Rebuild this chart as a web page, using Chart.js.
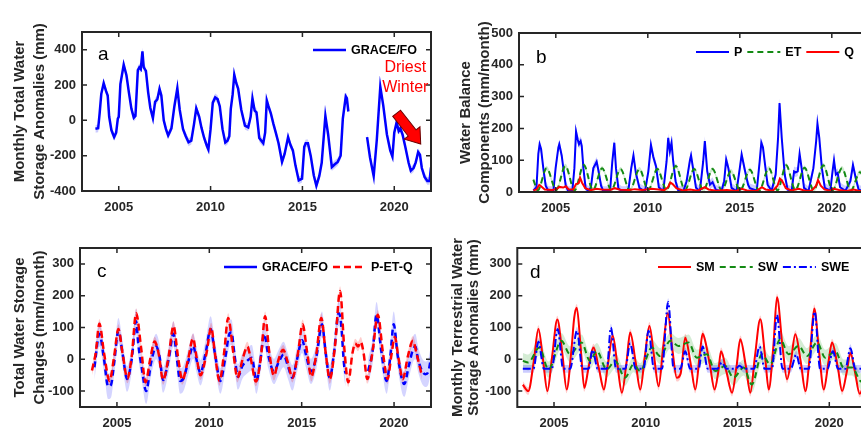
<!DOCTYPE html>
<html>
<head>
<meta charset="utf-8">
<script src="https://cdn.jsdelivr.net/npm/chart.js@4"></script>
<style>
  html, body { margin: 0; padding: 0; background: #fff; overflow: hidden; }
  body { width: 861px; height: 430px; position: relative; }
  canvas { position: absolute; }
</style>
</head>
<body>
<canvas id="grafA" width="440" height="215" style="left:0;top:0"></canvas>
<canvas id="grafB" width="445" height="215" style="left:440px;top:0"></canvas>
<canvas id="grafC" width="440" height="215" style="left:0;top:215px"></canvas>
<canvas id="grafD" width="445" height="215" style="left:440px;top:215px"></canvas>
<script>
// ---- dados ----
const yearTicks = [2005, 2010, 2015, 2020];

// (a) GRACE/FO TWSA (mm)
const aYears = [2003.73,2003.88,2003.96,2004.05,2004.18,2004.31,2004.40,2004.48,2004.60,2004.75,2004.86,2004.95,2005.00,2005.09,2005.27,2005.42,2005.55,2005.69,2005.82,2005.91,2006.04,2006.12,2006.20,2006.29,2006.36,2006.48,2006.60,2006.72,2006.86,2006.98,2007.10,2007.22,2007.32,2007.45,2007.57,2007.69,2007.87,2008.03,2008.19,2008.32,2008.50,2008.65,2008.80,2008.95,2009.10,2009.22,2009.38,2009.50,2009.65,2009.80,2009.88,2010.00,2010.12,2010.25,2010.38,2010.50,2010.65,2010.80,2010.92,2011.02,2011.10,2011.20,2011.29,2011.40,2011.50,2011.67,2011.87,2012.05,2012.18,2012.28,2012.40,2012.50,2012.65,2012.87,2012.97,2013.06,2013.15,2013.28,2013.42,2013.55,2013.70,2013.89,2014.03,2014.22,2014.35,2014.48,2014.62,2014.80,2014.98,2015.10,2015.18,2015.30,2015.45,2015.62,2015.76,2015.92,2016.05,2016.25,2016.40,2016.60,2016.75,2016.92,2017.08,2017.20,2017.36,2017.42,2017.50,2018.00,2018.52,2018.68,2018.88,2019.05,2019.24,2019.40,2019.60,2019.78,2019.90,2020.00,2020.13,2020.24,2020.33,2020.45,2020.60,2020.78,2020.90,2021.05,2021.17,2021.30,2021.40,2021.50,2021.65,2021.80,2021.92,2022.00];
const aTws = [-48,-45,40,150,210,165,140,20,-55,-95,-70,10,20,205,315,255,160,65,15,25,285,300,290,390,300,280,160,70,12,105,118,178,140,0,-50,-85,-45,80,182,60,-50,-90,-124,-115,-20,68,20,-40,-100,-145,-165,-50,100,130,120,80,-50,-125,-115,-90,65,145,258,210,180,60,-30,-40,20,125,55,45,-100,-130,-70,112,80,40,-20,-70,-130,-235,-190,-95,-140,-170,-255,-340,-330,-150,-130,-130,-200,-312,-370,-315,-240,25,-80,-265,-250,-235,-200,10,135,125,50,null,-95,-210,-315,-110,190,85,-80,-170,-205,-70,-10,-60,-45,-80,-150,-240,-285,-270,-238,-180,-195,-270,-320,-343,-343,-267];
const aBand = 22;
const setaDe = [2020.13, 40];     // seta "Driest Winter"
const setaAte = [2021.44, -134];
const textoSeta = ['Driest', 'Winter'];

// (b) P, ET, Q (mm/month)
const bPYears = [2003.78,2003.95,2004.05,2004.12,2004.20,2004.32,2004.45,2004.60,2004.87,2004.99,2005.14,2005.19,2005.32,2005.41,2005.54,2005.68,2005.90,2006.01,2006.10,2006.19,2006.26,2006.35,2006.41,2006.50,2006.62,2006.77,2006.91,2007.04,2007.13,2007.22,2007.31,2007.46,2007.58,2007.95,2008.07,2008.18,2008.27,2008.40,2008.58,2008.94,2009.10,2009.22,2009.35,2009.55,2009.85,2010.03,2010.17,2010.30,2010.45,2010.60,2010.84,2011.02,2011.11,2011.20,2011.29,2011.38,2011.51,2011.66,2011.93,2012.11,2012.29,2012.35,2012.47,2012.62,2012.83,2013.01,2013.10,2013.23,2013.38,2013.52,2013.70,2014.00,2014.15,2014.26,2014.38,2014.55,2014.82,2015.00,2015.10,2015.27,2015.45,2015.55,2015.92,2016.08,2016.17,2016.26,2016.35,2016.51,2016.73,2016.95,2017.08,2017.16,2017.28,2017.44,2017.60,2017.82,2017.95,2018.04,2018.15,2018.25,2018.36,2018.49,2018.73,2019.00,2019.15,2019.22,2019.32,2019.46,2019.62,2019.92,2020.04,2020.12,2020.22,2020.32,2020.45,2020.74,2021.01,2021.15,2021.30,2021.46,2021.70,2022.00];
const bP = [5,15,120,150,135,75,20,3,3,75,140,150,115,75,20,3,3,75,190,165,150,160,145,75,12,3,15,75,85,95,70,20,3,3,95,155,75,12,3,3,75,115,60,12,2,65,148,110,80,15,2,96,170,128,155,96,34,4,2,34,100,115,70,13,2,96,160,65,23,31,7,2,34,102,75,13,2,75,118,70,23,12,4,96,155,140,96,23,4,55,170,280,170,55,7,4,65,62,65,120,75,13,2,75,160,215,170,75,13,4,65,100,55,60,15,4,34,85,44,7,3,3];
const bETYears = [2003.78,2004.02,2004.50,2005.02,2005.52,2006.02,2006.52,2007.02,2007.52,2008.02,2008.52,2009.02,2009.55,2010.02,2010.52,2011.02,2011.52,2012.02,2012.52,2013.02,2013.52,2014.02,2014.52,2015.02,2015.55,2016.05,2016.58,2017.05,2017.52,2018.02,2018.52,2019.02,2019.54,2020.04,2020.55,2021.04,2021.53,2022.00];
const bET = [39,5,75,6,82,5,85,6,75,6,72,5,72,5,72,6,82,6,72,5,72,5,65,5,70,4,75,5,84,6,76,5,84,5,75,5,62,8];
const bQYears = [2003.78,2003.95,2004.10,2004.20,2004.40,2004.80,2005.05,2005.20,2005.40,2005.55,2005.70,2005.95,2006.10,2006.25,2006.32,2006.42,2006.60,2006.90,2007.20,2007.50,2008.00,2008.20,2008.50,2009.00,2009.30,2009.70,2010.20,2010.60,2010.90,2011.10,2011.22,2011.35,2011.55,2011.90,2012.30,2012.70,2013.10,2013.30,2013.70,2014.30,2014.80,2015.10,2015.40,2015.90,2016.20,2016.40,2016.80,2017.05,2017.18,2017.30,2017.50,2017.80,2018.20,2018.50,2018.90,2019.15,2019.25,2019.40,2019.60,2019.90,2020.10,2020.40,2020.80,2021.20,2021.50,2022.00];
const bQ = [5,8,22,18,8,6,10,16,14,18,8,8,25,28,45,30,12,6,10,8,7,12,7,6,9,6,10,8,6,15,30,25,12,5,8,4,15,8,4,6,3,10,5,3,15,8,4,20,42,35,12,5,10,5,4,20,38,20,8,4,10,6,3,8,3,3];
const bPBand = 15, bETBand = 7;

// (c) variacao do armazenamento (mm/month)
const cPetqYears = [2003.65,2003.85,2004.05,2004.30,2004.60,2004.85,2005.08,2005.30,2005.57,2005.80,2006.04,2006.30,2006.55,2006.80,2007.04,2007.25,2007.50,2007.80,2008.06,2008.30,2008.54,2008.85,2009.12,2009.30,2009.52,2009.85,2010.10,2010.30,2010.55,2010.80,2011.02,2011.30,2011.52,2011.80,2012.06,2012.25,2012.52,2012.80,2013.02,2013.25,2013.50,2013.75,2014.00,2014.25,2014.50,2014.80,2015.05,2015.30,2015.52,2015.80,2016.06,2016.30,2016.52,2016.80,2017.08,2017.30,2017.52,2017.75,2017.90,2018.05,2018.20,2018.35,2018.55,2018.85,2019.12,2019.40,2019.65,2019.85,2020.04,2020.25,2020.47,2020.75,2021.02,2021.25,2021.50];
const cPetq = [-35,20,112,20,-68,10,95,20,-60,10,145,40,-72,0,56,20,-65,10,105,10,-65,0,66,10,-50,20,100,20,-68,20,130,20,-58,0,40,0,-70,10,135,20,-52,0,30,-10,-58,20,110,20,-55,20,130,20,-62,40,215,40,-72,20,50,40,55,20,-62,30,140,20,-62,10,70,0,-62,10,58,10,-50];
const cGraceYears = [2003.78,2004.05,2004.30,2004.52,2004.68,2004.85,2005.08,2005.30,2005.55,2005.80,2006.04,2006.15,2006.35,2006.58,2006.85,2007.12,2007.30,2007.50,2007.80,2008.06,2008.25,2008.42,2008.60,2008.85,2009.13,2009.30,2009.52,2009.80,2010.07,2010.30,2010.60,2010.85,2011.10,2011.20,2011.35,2011.55,2011.80,2012.05,2012.30,2012.55,2012.75,2012.97,2013.20,2013.50,2013.75,2014.02,2014.25,2014.50,2014.75,2015.02,2015.25,2015.50,2015.80,2016.10,2016.30,2016.52,2016.75,2017.00,2017.12,2017.30,2017.38,2018.00,2018.60,2018.85,2019.05,2019.30,2019.60,2019.80,2019.98,2020.20,2020.55,2020.80,2021.02,2021.15,2021.30,2021.50,2021.70,2021.85,2022.00];
const cGrace = [-25,80,0,-85,-80,-10,90,20,-62,0,120,50,-30,-100,-10,40,10,-65,0,80,0,-68,-60,-10,42,0,-42,20,95,20,-68,0,82,85,20,-55,-20,-5,5,-68,-10,80,10,-38,-10,15,-20,-58,0,60,10,-38,10,110,20,-58,20,145,120,-20,-45,null,-37,30,140,30,-68,10,110,10,-78,-20,30,40,0,-35,-47,-40,5];
const cGraceBand = 40, cPetqBand = 15;

// (d) SM, SW, SWE (mm)
const dSMYears = [2003.30,2003.60,2003.90,2004.15,2004.40,2004.64,2004.90,2005.18,2005.45,2005.69,2005.95,2006.10,2006.24,2006.45,2006.65,2006.90,2007.15,2007.45,2007.72,2007.95,2008.20,2008.45,2008.70,2008.95,2009.15,2009.45,2009.70,2009.95,2010.20,2010.45,2010.70,2010.95,2011.20,2011.45,2011.69,2011.90,2012.15,2012.45,2012.70,2012.95,2013.10,2013.25,2013.50,2013.75,2013.95,2014.10,2014.40,2014.70,2014.95,2015.15,2015.45,2015.70,2015.95,2016.24,2016.50,2016.70,2016.95,2017.15,2017.45,2017.70,2017.90,2018.15,2018.45,2018.70,2018.95,2019.18,2019.45,2019.70,2019.95,2020.15,2020.45,2020.70,2020.95,2021.15,2021.40,2021.65,2022.00];
const dSM = [-80,-100,-5,95,0,-100,10,125,20,-95,30,130,162,40,-90,-20,37,-30,-95,-10,74,-15,-105,-10,84,-10,-95,10,105,10,-85,40,145,30,-58,-45,68,-15,-95,20,80,55,-20,-95,-40,25,-40,-105,-20,63,-20,-105,10,126,10,-95,40,195,40,-63,-10,79,-10,-100,20,160,20,-95,-10,53,-20,-100,-40,20,-40,-108,-60];
const dSWYears = [2003.30,2003.60,2004.20,2004.70,2005.40,2005.87,2006.50,2006.96,2007.33,2007.87,2008.33,2008.87,2009.33,2009.70,2010.33,2010.78,2011.33,2011.78,2012.33,2012.78,2013.33,2013.78,2014.33,2014.78,2015.33,2015.78,2016.33,2016.78,2017.33,2017.78,2018.33,2018.78,2019.33,2019.78,2020.33,2020.78,2021.24,2021.69,2022.00];
const dSW = [-5,-10,37,-32,58,16,53,-5,26,-32,-5,-58,-16,-37,37,10,58,42,53,5,16,-37,-21,-58,-26,-79,16,-16,63,16,42,10,53,5,26,-26,-26,-68,-75];
const dSWEYears = [2003.30,2003.88,2004.15,2004.45,2004.88,2005.20,2005.50,2005.88,2006.25,2006.55,2006.88,2007.10,2007.38,2007.88,2008.10,2008.38,2008.88,2009.15,2009.45,2009.88,2010.15,2010.45,2010.88,2011.22,2011.52,2011.88,2012.15,2012.42,2012.88,2013.10,2013.38,2013.90,2014.15,2014.40,2014.90,2015.10,2015.35,2015.90,2016.20,2016.48,2016.88,2017.15,2017.45,2017.90,2018.20,2018.45,2018.88,2019.20,2019.50,2019.90,2020.20,2020.48,2020.88,2021.15,2021.42,2022.00];
const dSWE = [-30,-30,55,-30,-30,95,-30,-30,90,-30,-30,30,-30,-30,100,-30,-30,50,-30,-30,90,-30,-30,180,-30,-30,25,-30,-30,40,-30,-30,-10,-30,-30,-20,-30,-30,40,-30,-30,140,-30,-30,15,-30,-30,150,-30,-30,25,-30,-30,35,-30,-30];
const dSMBand = 12, dSWBand = 25, dSWEBand = 12;

// ---- estilo ----
const FONTE = '"Liberation Sans", Arial, Helvetica, sans-serif';
Chart.defaults.font.family = FONTE;
Chart.defaults.color = '#262626';

function pontos(ts, vs, d) {
  return ts.map((t, i) => ({x: t, y: vs[i] == null ? null : vs[i] + (d || 0)}));
}

function linha(ts, vs, cor, larg, dash, mono) {
  return {
    data: pontos(ts, vs), borderColor: cor, borderWidth: larg, borderDash: dash || [],
    pointRadius: 0, fill: false, spanGaps: false,
    cubicInterpolationMode: mono ? 'monotone' : 'default', tension: 0
  };
}

// faixa de incerteza: duas series, a de baixo preenche ate a de cima
function faixa(ts, vs, w, cor, mono) {
  const base = {pointRadius: 0, borderWidth: 0, borderColor: 'rgba(0,0,0,0)', spanGaps: false,
    cubicInterpolationMode: mono ? 'monotone' : 'default', tension: 0};
  return [
    Object.assign({data: pontos(ts, vs, w), fill: false}, base),
    Object.assign({data: pontos(ts, vs, -w), fill: '-1', backgroundColor: cor}, base)
  ];
}

// caixa estilo MATLAB com ticks para dentro
const caixa = {
  id: 'caixa',
  afterDatasetsDraw(chart) {
    const {ctx, chartArea: a, scales: {x, y}} = chart;
    ctx.save();
    ctx.strokeStyle = '#262626';
    ctx.lineWidth = 1.5;
    ctx.beginPath();
    x.ticks.forEach(t => {
      const px = x.getPixelForValue(t.value);
      ctx.moveTo(px, a.bottom); ctx.lineTo(px, a.bottom - 5);
      ctx.moveTo(px, a.top); ctx.lineTo(px, a.top + 5);
    });
    y.ticks.forEach(t => {
      const py = y.getPixelForValue(t.value);
      ctx.moveTo(a.left, py); ctx.lineTo(a.left + 5, py);
      ctx.moveTo(a.right, py); ctx.lineTo(a.right - 5, py);
    });
    ctx.stroke();
    ctx.lineWidth = 2;
    ctx.strokeRect(a.left, a.top, a.right - a.left, a.bottom - a.top);
    ctx.restore();
  }
};

// legenda em linha + letra do painel
const legendaLinhas = {
  id: 'legendaLinhas',
  afterDraw(chart, args, opts) {
    const ctx = chart.ctx;
    ctx.save();
    ctx.font = 'bold 12.5px ' + FONTE;
    ctx.textBaseline = 'middle';
    let x = opts.x;
    opts.items.forEach(it => {
      ctx.strokeStyle = it.color;
      ctx.lineWidth = it.width;
      ctx.setLineDash(it.dash || []);
      ctx.beginPath();
      ctx.moveTo(x, opts.y);
      ctx.lineTo(x + 33, opts.y);
      ctx.stroke();
      ctx.setLineDash([]);
      ctx.fillStyle = '#000';
      ctx.fillText(it.label, x + 38, opts.y + 1);
      x += 38 + ctx.measureText(it.label).width + 5;
    });
    ctx.font = '19px ' + FONTE;
    ctx.textBaseline = 'alphabetic';
    ctx.fillText(opts.letter, opts.lx, opts.ly);
    ctx.restore();
  }
};

// seta e texto do painel a
const anotacao = {
  id: 'anotacao',
  afterDatasetsDraw(chart) {
    if (chart.canvas.id !== 'grafA') return;
    const {ctx, scales: {x, y}} = chart;
    const x0 = x.getPixelForValue(setaDe[0]), y0 = y.getPixelForValue(setaDe[1]);
    const x1 = x.getPixelForValue(setaAte[0]), y1 = y.getPixelForValue(setaAte[1]);
    const len = Math.hypot(x1 - x0, y1 - y0);
    ctx.save();
    ctx.translate(x0, y0);
    ctx.rotate(Math.atan2(y1 - y0, x1 - x0));
    ctx.beginPath();
    ctx.moveTo(0, -5); ctx.lineTo(len - 14, -5); ctx.lineTo(len - 14, -10);
    ctx.lineTo(len, 0);
    ctx.lineTo(len - 14, 10); ctx.lineTo(len - 14, 5); ctx.lineTo(0, 5);
    ctx.closePath();
    ctx.fillStyle = '#ff0000';
    ctx.fill();
    ctx.strokeStyle = '#6b0000';
    ctx.lineWidth = 1;
    ctx.stroke();
    ctx.restore();
    ctx.save();
    ctx.fillStyle = '#ff0000';
    ctx.font = '16px ' + FONTE;
    ctx.textAlign = 'center';
    ctx.fillText(textoSeta[0], x.getPixelForValue(2020.6), y.getPixelForValue(271));
    ctx.fillText(textoSeta[1], x.getPixelForValue(2020.6), y.getPixelForValue(163));
    ctx.restore();
  }
};

function criarGrafico(id, box, yMin, yMax, yTicks, titulo, datasets, legenda) {
  const canvas = document.getElementById(id);
  return new Chart(canvas, {
    type: 'line',
    data: {datasets: datasets},
    plugins: [caixa, legendaLinhas, anotacao],
    options: {
      responsive: false,
      animation: false,
      devicePixelRatio: 1,
      layout: {autoPadding: false, padding: {left: 0, top: box.top, right: canvas.width - box.right, bottom: 0}},
      plugins: {legend: {display: false}, tooltip: {enabled: false}, legendaLinhas: legenda},
      scales: {
        x: {
          type: 'linear', min: 2003, max: 2022,
          grid: {display: false, drawTicks: false}, border: {display: false},
          afterBuildTicks: s => { s.ticks = yearTicks.map(v => ({value: v})); },
          afterFit: s => { s.height = canvas.height - box.bottom; },
          ticks: {padding: 9, autoSkip: false, maxRotation: 0, font: {size: 13, weight: 'bold'}, color: '#262626', callback: v => String(v)}
        },
        y: {
          type: 'linear', min: yMin, max: yMax,
          grid: {display: false, drawTicks: false}, border: {display: false},
          afterBuildTicks: s => { s.ticks = yTicks.map(v => ({value: v})); },
          afterFit: s => { s.width = box.left; },
          ticks: {padding: 6, font: {size: 13, weight: 'bold'}, color: '#262626', callback: v => String(v)},
          title: {display: true, text: titulo, color: '#262626', padding: {top: box.tp, bottom: 0},
            font: {size: 15, weight: 'bold', lineHeight: box.lh + 'px'}}
        }
      }
    }
  });
}

const AZUL = '#0000ff', VERMELHO = '#ff0000', VERDE = '#138a13';

// painel a
criarGrafico('grafA', {left: 82, right: 431, top: 32, bottom: 191, tp: 9.5, lh: 20},
  -400, 500, [-400, -200, 0, 200, 400], ['Monthly Total Water', 'Storage Anomalies (mm)'],
  [linha(aYears, aTws, AZUL, 2.5)].concat(faixa(aYears, aTws, aBand, 'rgba(0,0,255,0.2)')),
  {x: 313, y: 50, letter: 'a', lx: 98, ly: 60,
   items: [{label: 'GRACE/FO', color: AZUL, width: 2.5}]});

// painel b
criarGrafico('grafB', {left: 79, right: 428.6, top: 33, bottom: 192, tp: 16, lh: 19},
  0, 500, [0, 100, 200, 300, 400, 500], ['Water Balance', 'Components (mm/month)'],
  [linha(bQYears, bQ, VERMELHO, 2),
   linha(bETYears, bET, VERDE, 2, [6, 4], true),
   linha(bPYears, bP, AZUL, 2)]
    .concat(faixa(bPYears, bP, bPBand, 'rgba(0,0,255,0.2)'))
    .concat(faixa(bETYears, bET, bETBand, 'rgba(0,140,0,0.2)', true)),
  {x: 256, y: 52, letter: 'b', lx: 96, ly: 63,
   items: [{label: 'P', color: AZUL, width: 2}, {label: 'ET', color: VERDE, width: 2, dash: [6, 4]},
           {label: 'Q', color: VERMELHO, width: 2}]});

// painel c
criarGrafico('grafC', {left: 80, right: 431, top: 33, bottom: 192, tp: 9.5, lh: 20},
  -150, 350, [-100, 0, 100, 200, 300], ['Total Water Storage', 'Changes (mm/month)'],
  [linha(cPetqYears, cPetq, VERMELHO, 2.5, [7, 4], true),
   linha(cGraceYears, cGrace, AZUL, 2.5, [6, 4], true)]
    .concat(faixa(cPetqYears, cPetq, cPetqBand, 'rgba(255,0,0,0.2)', true))
    .concat(faixa(cGraceYears, cGrace, cGraceBand, 'rgba(0,0,255,0.17)', true)),
  {x: 224, y: 52, letter: 'c', lx: 97, ly: 62,
   items: [{label: 'GRACE/FO', color: AZUL, width: 2.5}, {label: 'P-ET-Q', color: VERMELHO, width: 2.5, dash: [7, 4]}]});

// painel d
criarGrafico('grafD', {left: 77.3, right: 426, top: 33, bottom: 192, tp: 9.7, lh: 16},
  -150, 350, [-100, 0, 100, 200, 300], ['Monthly Terrestrial Water', 'Storage Anomalies (mm)'],
  [linha(dSWEYears, dSWE, AZUL, 2, [8, 3, 2, 3], true),
   linha(dSWYears, dSW, VERDE, 2, [6, 4], true),
   linha(dSMYears, dSM, VERMELHO, 2, [], true)]
    .concat(faixa(dSMYears, dSM, dSMBand, 'rgba(255,0,0,0.2)', true))
    .concat(faixa(dSWEYears, dSWE, dSWEBand, 'rgba(0,0,255,0.2)', true))
    .concat(faixa(dSWYears, dSW, dSWBand, 'rgba(0,140,0,0.17)', true)),
  {x: 218, y: 52, letter: 'd', lx: 90, ly: 63,
   items: [{label: 'SM', color: VERMELHO, width: 2}, {label: 'SW', color: VERDE, width: 2, dash: [6, 4]},
           {label: 'SWE', color: AZUL, width: 2, dash: [8, 3, 2, 3]}]});
</script>
</body>
</html>
